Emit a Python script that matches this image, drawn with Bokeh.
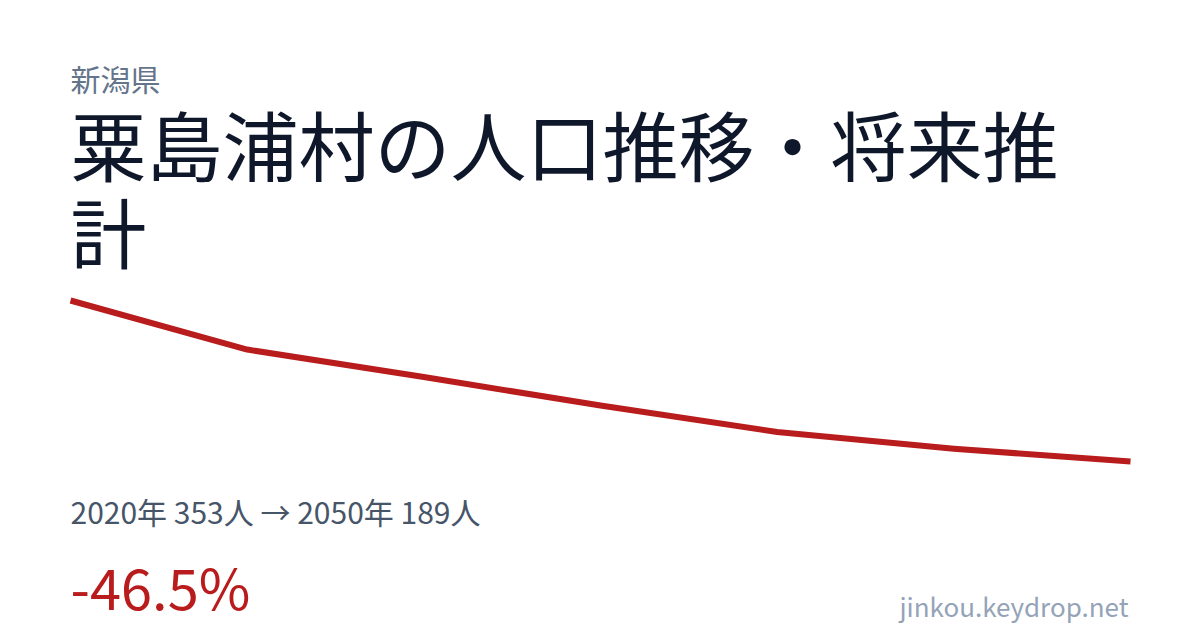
from bokeh.plotting import figure
from bokeh.models import Label, Range1d
from bokeh.embed import file_html
from bokeh.resources import INLINE

# Data
years = [2020, 2025, 2030, 2035, 2040, 2045, 2050]
population = [353, 303, 275, 246, 219, 202, 189]

prefecture = "新潟県"
title_line1 = "粟島浦村の人口推移・将来推"
title_line2 = "計"
summary = "2020年 353人 → 2050年 189人"
change = "-46.5%"
site = "jinkou.keydrop.net"

W, H = 1200, 630

# Map data to the reference pixel layout
px_left, px_right = 70, 1130
py_top, py_bot = 300, 461
x_per_px = (years[-1] - years[0]) / (px_right - px_left)
y_per_px = (population[0] - population[-1]) / (py_bot - py_top)
x0 = years[0] - px_left * x_per_px
x1 = years[-1] + (W - px_right) * x_per_px
y_top = population[0] + py_top * y_per_px
y_bottom = population[-1] - (H - py_bot) * y_per_px

p = figure(width=W, height=H, output_backend="svg", toolbar_location=None,
           x_range=Range1d(x0, x1), y_range=Range1d(y_bottom, y_top),
           min_border=0, min_border_left=0, min_border_right=0,
           min_border_top=0, min_border_bottom=0)
p.axis.visible = False
p.grid.visible = False
p.outline_line_color = None
p.background_fill_color = "white"
p.border_fill_color = "white"

p.line(years, population, line_width=6, line_color="#b91c1c",
       line_join="round", line_cap="butt")


def sx(px):
    return x0 + px * x_per_px


def sy(py):
    return y_top - py * y_per_px


FONT = "Noto Sans CJK JP"


def add_label(text, px, py, size, color, align="left"):
    p.add_layout(Label(x=sx(px), y=sy(py), text=text, text_font=FONT,
                       text_font_size=f"{size}px", text_color=color,
                       text_align=align, text_baseline="alphabetic"))


add_label(prefecture, 70, 77, 30, "#64748b")
add_label(title_line1, 70, 142, 76, "#0f172a")
add_label(title_line2, 70, 229, 76, "#0f172a")
add_label(summary, 70, 510, 30, "#475569")
add_label(change, 70, 585, 56, "#b91c1c")
add_label(site, 1128, 605, 26, "#94a3b8", align="right")

open("out.html", "w").write(file_html(p, INLINE))
